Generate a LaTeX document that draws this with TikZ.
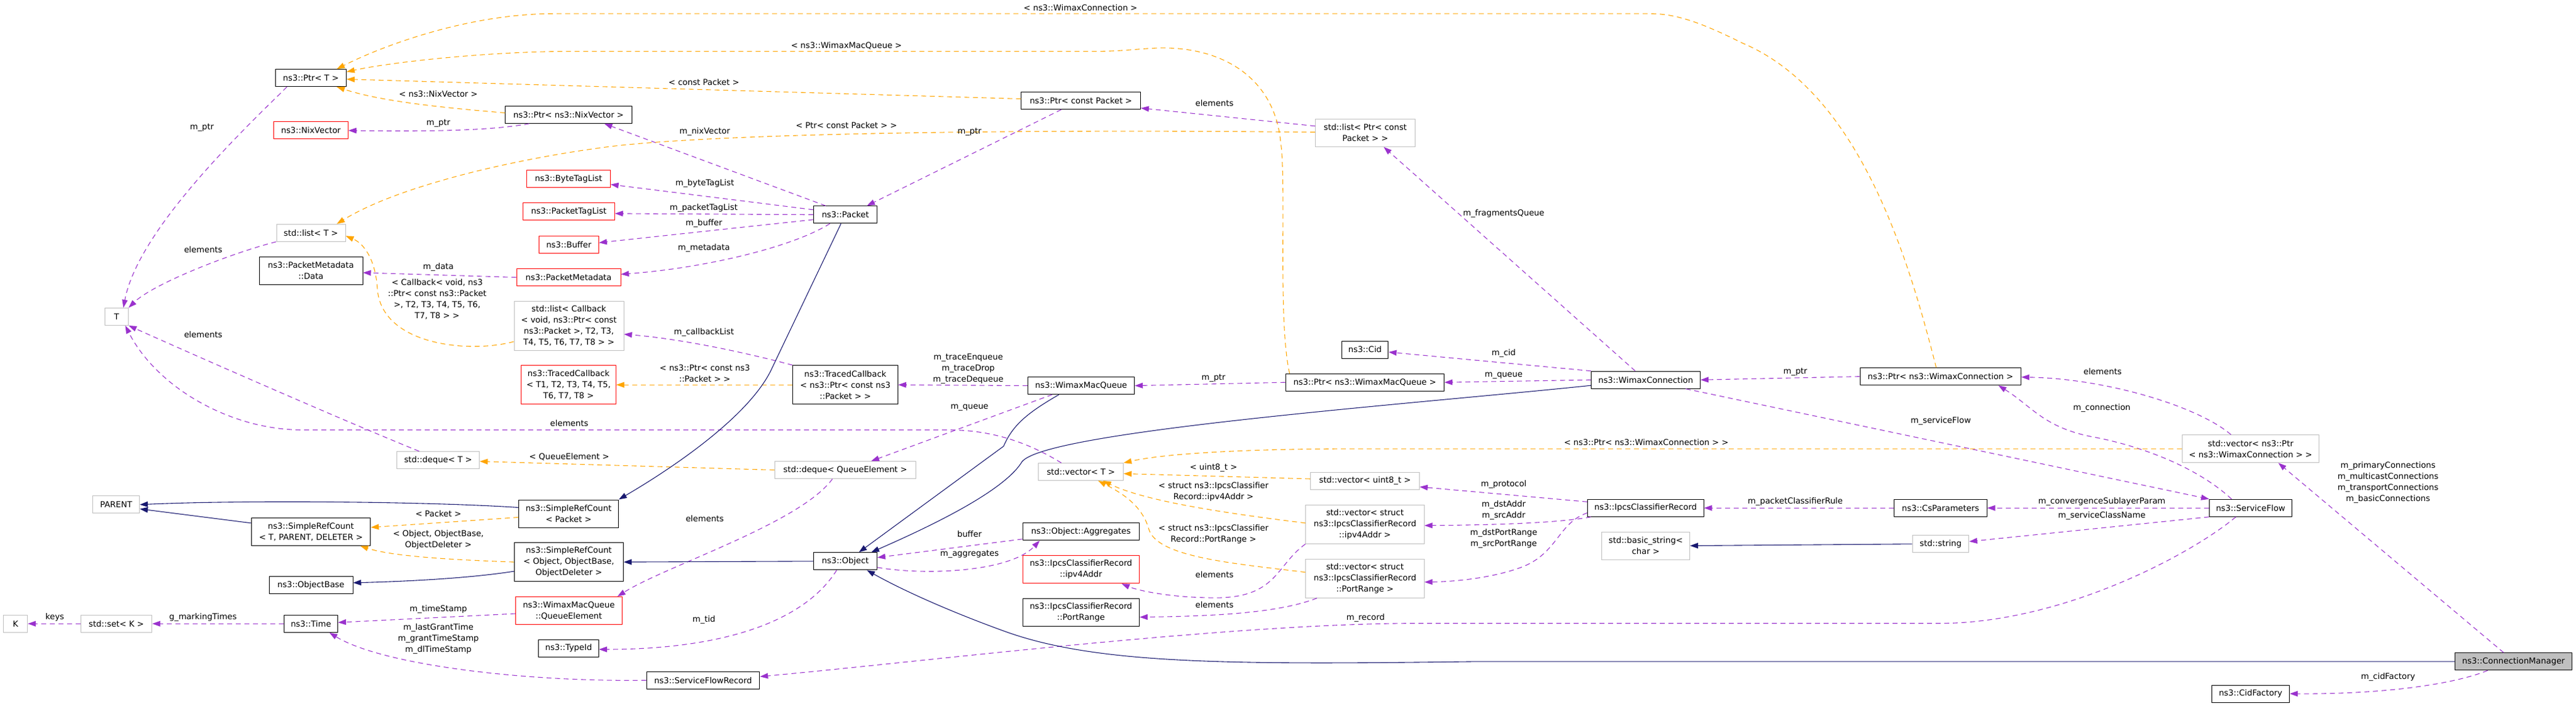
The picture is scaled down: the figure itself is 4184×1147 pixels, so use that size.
\documentclass[tikz,border=0pt]{standalone}
\usepackage{fontspec}
\setmainfont{DejaVu Sans}
\usetikzlibrary{arrows.meta}
\definecolor{usecol}{HTML}{9A32CD}
\definecolor{tmplcol}{HTML}{FFA500}
\definecolor{inhcol}{HTML}{191970}
\definecolor{extcol}{HTML}{BFBFBF}
\definecolor{trunccol}{HTML}{FF0000}
\newcommand{\dgfont}{\fontsize{13.33}{18}\selectfont}
\tikzset{
  dgbox/.style={rectangle, line width=1pt, font=\dgfont, align=center,
    minimum height=28, inner xsep=6, inner ysep=4, minimum width=#1},
  cls/.style={dgbox=#1, draw=black},
  ext/.style={dgbox=#1, draw=extcol},
  trunc/.style={dgbox=#1, draw=trunccol},
  focuscls/.style={dgbox=#1, draw=black, fill=extcol},
  h2/.style={minimum height=45},
  h3/.style={minimum height=63},
  h4/.style={minimum height=80},
  lbl/.style={font=\dgfont, align=center, inner sep=0},
  link/.style={line width=1.1pt, -{Triangle[length=13pt,width=9pt]}},
  member/.style={link, draw=usecol, dash pattern=on 8pt off 6pt},
  tmplarg/.style={link, draw=tmplcol, dash pattern=on 8pt off 6pt},
  derive/.style={link, draw=inhcol}
}
\begin{document}
\begin{tikzpicture}[x=1pt, y=-1pt]
\useasboundingbox (0,0) rectangle (4184,1147);

\node[cls=115] (ptrT) at (505,126.7) {ns3::Ptr< T >};
\node[cls=205.5] (ptrNix) at (923.5,186.4) {ns3::Ptr< ns3::NixVector >};
\node[trunc=120.6] (nixvec) at (505,212) {ns3::NixVector};
\node[trunc=135.4] (bytetag) at (923.5,290.7) {ns3::ByteTagList};
\node[trunc=148.7] (pkttag) at (923.9,343.9) {ns3::PacketTagList};
\node[trunc=96.8] (buffer) at (923.9,397.3) {ns3::Buffer};
\node[trunc=169] (pktmeta) at (923.5,450.6) {ns3::PacketMetadata};
\node[ext=112] (listT) at (505,378.3) {std::list< T >};
\node[cls=168, h2] (metadata) at (505,440) {ns3::PacketMetadata\\::Data};
\node[ext=178, h4] (listCb) at (924,529) {std::list< Callback\\< void, ns3::Ptr< const\\ns3::Packet >, T2, T3,\\T4, T5, T6, T7, T8 > >};
\node[ext=38] (T) at (189.4,514.4) {T};
\node[trunc=153.7, h3] (tcT) at (923.5,625.2) {ns3::TracedCallback\\< T1, T2, T3, T4, T5,\\T6, T7, T8 >};
\node[ext=134] (dequeT) at (711.7,747.6) {std::deque< T >};
\node[ext=75.8] (parent) at (188.7,819.8) {PARENT};
\node[cls=162, h2] (srcPkt) at (923.5,834.5) {ns3::SimpleRefCount\\< Packet >};
\node[cls=193.6, h2] (srcT) at (505,863.8) {ns3::SimpleRefCount\\< T, PARENT, DELETER >};
\node[cls=177, h3] (srcObj) at (923.9,913.1) {ns3::SimpleRefCount\\< Object, ObjectBase,\\ObjectDeleter >};
\node[cls=136] (objbase) at (505,950.8) {ns3::ObjectBase};
\node[trunc=172.6, h2] (qelem) at (923.9,992) {ns3::WimaxMacQueue\\::QueueElement};
\node[ext=39] (K) at (25.2,1013.3) {K};
\node[ext=115.7] (setK) at (189,1013.3) {std::set< K >};
\node[cls=87] (time) at (505,1013.3) {ns3::Time};
\node[cls=97.5] (typeid) at (923.5,1053) {ns3::TypeId};
\node[cls=103] (packet) at (1373,348.8) {ns3::Packet};
\node[cls=193.6] (ptrPkt) at (1755.7,163.6) {ns3::Ptr< const Packet >};
\node[ext=162, h2] (listPkt) at (2217.5,215.8) {std::list< Ptr< const\\Packet > >};
\node[cls=170.5, h3] (tcPkt) at (1373,625.2) {ns3::TracedCallback\\< ns3::Ptr< const ns3\\::Packet > >};
\node[cls=173.3] (wmq) at (1756,626.6) {ns3::WimaxMacQueue};
\node[cls=257.5] (ptrWmq) at (2216.8,621.2) {ns3::Ptr< ns3::WimaxMacQueue >};
\node[ext=229.4] (dequeQ) at (1373,763.6) {std::deque< QueueElement >};
\node[ext=137.5] (vecT) at (1755.7,766.5) {std::vector< T >};
\node[cls=103] (object) at (1373,911.8) {ns3::Object};
\node[cls=189.4] (aggr) at (1755.7,863.8) {ns3::Object::Aggregates};
\node[trunc=189.4, h2] (ipv4) at (1755.7,925.3) {ns3::IpcsClassifierRecord\\::ipv4Addr};
\node[cls=189.4, h2] (prange) at (1755.7,994.6) {ns3::IpcsClassifierRecord\\::PortRange};
\node[cls=183.8] (sfrec) at (1142,1105.2) {ns3::ServiceFlowRecord};
\node[cls=75.7] (cid) at (2217,568) {ns3::Cid};
\node[cls=176.8] (wconn) at (2673,617.2) {ns3::WimaxConnection};
\node[cls=261.5] (ptrWc) at (3151.8,611.7) {ns3::Ptr< ns3::WimaxConnection >};
\node[ext=176.7] (vecU8) at (2217,781) {std::vector< uint8\_t >};
\node[ext=192.3, h3] (vecIpv4) at (2217,851.8) {std::vector< struct\\ns3::IpcsClassifierRecord\\::ipv4Addr >};
\node[ext=192.3, h3] (vecPr) at (2217,939.7) {std::vector< struct\\ns3::IpcsClassifierRecord\\::PortRange >};
\node[cls=188.7] (icr) at (2672.8,825.3) {ns3::IpcsClassifierRecord};
\node[ext=143, h2] (bstr) at (2673,886.6) {std::basic\_string<\\char >};
\node[cls=150.7] (csp) at (3151.8,825.3) {ns3::CsParameters};
\node[ext=91.8] (str) at (3152,883.8) {std::string};
\node[ext=222.2, h2] (vecWc) at (3655.5,729.1) {std::vector< ns3::Ptr\\< ns3::WimaxConnection > >};
\node[cls=133.9] (sflow) at (3655.5,825.3) {ns3::ServiceFlow};
\node[focuscls=190] (cm) at (4082.5,1074.8) {ns3::ConnectionManager};
\node[cls=126] (cidf) at (3655.5,1127) {ns3::CidFactory};

\draw[member] ([xshift=-39]ptrT.south) .. controls (406,201) and (225,370) .. ([xshift=11]T.north);
\draw[member] (listT.south west) .. controls (380,410) and (250,460) .. (T.north east);
\draw[member] ([xshift=-31]dequeT.north) .. controls (550,680) and (300,570) .. (T.south east);
\draw[member] ([xshift=-32]vecT.north) .. controls (1680,725) and (1620,698.5) .. (1541,698.5) -- (491,698.5) .. controls (375,698.5) and (255,630) .. ([xshift=14]T.south);
\draw[member] ([xshift=-64]ptrNix.south) .. controls (800,212) and (700,214) .. (nixvec.east);
\draw[member] ([xshift=-32]packet.north) -- ([xshift=58]ptrNix.south);
\draw[member] ([yshift=8]packet.west) -- ([yshift=-9]bytetag.east);
\draw[member] (packet.west) -- ([yshift=-3]pkttag.east);
\draw[member] ([yshift=-8]packet.west) -- ([yshift=3]buffer.east);
\draw[member] ([xshift=-25]packet.south) .. controls (1290,400) and (1150,435) .. ([yshift=5]pktmeta.east);
\draw[member] (pktmeta.west) -- ([yshift=-3]metadata.east);
\draw[member] (tcPkt.north west) .. controls (1200,570) and (1100,550) .. ([yshift=-14]listCb.east);
\draw[member] (wmq.west) -- (tcPkt.east);
\draw[member] ([xshift=-47]wmq.south) -- ([xshift=42]dequeQ.north);
\draw[member] ([xshift=-21]dequeQ.south) .. controls (1300,850) and (1080,920) .. ([xshift=79]qelem.north);
\draw[member] ([yshift=-5]qelem.west) -- ([yshift=2]time.east);
\draw[member] (setK.west) -- (K.east);
\draw[member] (time.west) -- (setK.east);
\draw[member] (sfrec.west) .. controls (850,1108) and (620,1080) .. ([xshift=30]time.south);
\draw[member] ([xshift=-14]object.south) .. controls (1300,1020) and (1150,1055) .. ([yshift=-2]typeid.east);
\draw[member] ([yshift=-10]object.east) .. controls (1500,935) and (1640,930) .. ([xshift=-67]aggr.south);
\draw[member] ([yshift=-12]aggr.west) -- ([yshift=6]object.east);
\draw[member] ([xshift=-32]ptrPkt.south) -- ([xshift=35]packet.north);
\draw[member] ([yshift=11]listPkt.west) -- ([yshift=-12]ptrPkt.east);
\draw[member] (ptrWmq.west) -- (wmq.east);
\draw[member] (wconn.west) -- (ptrWmq.east);
\draw[member] (wconn.north west) -- ([yshift=-4]cid.east);
\draw[member] ([xshift=-17]wconn.north) -- ([xshift=30]listPkt.south);
\draw[member] (ptrWc.west) -- (wconn.east);
\draw[member] ([xshift=65]wconn.south) -- (sflow.north west);
\draw[member] ([xshift=-31]sflow.north) .. controls (3570,760) and (3480,725) .. (3400,710) .. controls (3320,695) and (3300,660) .. ([xshift=94]ptrWc.south);
\draw[member] ([xshift=-32]vecWc.north) .. controls (3570,660) and (3420,615) .. ([yshift=-1]ptrWc.east);
\draw[member] ([xshift=-16]cm.north) -- ([xshift=45]vecWc.south);
\draw[member] ([xshift=-42]cm.south) .. controls (3990,1110) and (3880,1128) .. (cidf.east);
\draw[member] (sflow.west) -- (csp.east);
\draw[member] (sflow.south west) -- ([yshift=4]str.east);
\draw[member] ([xshift=-24]sflow.south) .. controls (3560,900) and (3350,1012.7) .. (3150,1012.7) -- (2300,1012.7) .. controls (2000,1012.7) and (1500,1075) .. ([yshift=6]sfrec.east);
\draw[member] (csp.west) -- (icr.east);
\draw[member] ([yshift=10]icr.west) -- ([yshift=-10]vecU8.east);
\draw[member] ([xshift=6]icr.south west) .. controls (2530,850) and (2420,853) .. ([yshift=-2]vecIpv4.east);
\draw[member] ([yshift=-8]icr.west) .. controls (2530,850) and (2530,900) .. (2470,922) .. controls (2420,940) and (2360,945) .. ([yshift=-6]vecPr.east);
\draw[member] (vecIpv4.south west) .. controls (2070,920) and (2075,975) .. (1962,971) .. controls (1900,970) and (1850,960) .. ([xshift=66]ipv4.south);
\draw[member] ([xshift=-78]vecPr.south) .. controls (2080,995) and (1980,1001) .. ([yshift=-8]prange.east);

\draw[tmplarg] ([xshift=-7]ptrWc.north) .. controls (3100,420) and (3020,150) .. (2830,70) .. controls (2760,35) and (2720,22.2) .. (2680,22.2) -- (900,22.2) .. controls (760,22.2) and (620,75) .. ([xshift=42]ptrT.north);
\draw[tmplarg] ([xshift=7]ptrWmq.north west) .. controls (2075,520) and (2090,300) .. (2080,230) .. controls (2070,130) and (1990,75) .. (1880,78) .. controls (1840,80) and (1820,83.4) .. (1780,83.4) -- (930,83.4) .. controls (800,83.4) and (640,100) .. ([yshift=10]ptrT.east);
\draw[tmplarg] ([yshift=3]ptrPkt.west) -- ([yshift=-2]ptrT.east);
\draw[tmplarg] ([yshift=3]ptrNix.west) .. controls (720,175) and (620,165) .. ([xshift=42]ptrT.south);
\draw[tmplarg] ([yshift=1]listPkt.west) .. controls (1700,210) and (1200,215) .. (1000,237) .. controls (850,255) and (650,300) .. ([xshift=42]listT.north);
\draw[tmplarg] ([yshift=-26]listCb.west) .. controls (760,575) and (620,560) .. (613,470) .. controls (610,420) and (590,395) .. ([yshift=-5]listT.east);
\draw[tmplarg] (tcPkt.west) -- (tcT.east);
\draw[tmplarg] (dequeQ.west) -- ([yshift=-2]dequeT.east);
\draw[tmplarg] ([yshift=-6]srcPkt.west) -- ([yshift=7]srcT.east);
\draw[tmplarg] (srcObj.west) .. controls (750,910) and (640,905) .. ([xshift=80]srcT.south);
\draw[tmplarg] ([yshift=3]vecU8.west) -- ([yshift=-3]vecT.east);
\draw[tmplarg] ([yshift=2]vecIpv4.west) .. controls (2000,835) and (1860,815) .. ([xshift=36]vecT.south);
\draw[tmplarg] ([yshift=10]vecPr.west) .. controls (2000,915) and (1880,905) .. (1866,860) .. controls (1855,820) and (1820,800) .. ([xshift=28]vecT.south);
\draw[tmplarg] (vecWc.west) -- (2200,729.1) .. controls (2050,729.1) and (1900,735) .. (vecT.north east);

\draw[derive] ([yshift=14]srcT.west) -- ([yshift=-7]parent.east);
\draw[derive] ([yshift=10]srcPkt.west) .. controls (700,815) and (400,812) .. (parent.east);
\draw[derive] ([yshift=-15]srcObj.west) .. controls (760,940) and (650,945) .. ([yshift=4]objbase.east);
\draw[derive] ([xshift=-7]packet.south) -- (1253,600) .. controls (1220,670) and (1110,750) .. (srcPkt.north east);
\draw[derive] ([xshift=-36]wmq.south) .. controls (1670,670) and (1645,690) .. (1630,725) -- ([xshift=22]object.north);
\draw[derive] ([yshift=-9]wconn.west) .. controls (2300,656) and (1700,700) .. (1660,750) .. controls (1630,800) and (1500,860) .. ([xshift=42]object.north);
\draw[derive] (object.west) -- (srcObj.east);
\draw[derive] (cm.west) -- (2400,1074.8) .. controls (2000,1080) and (1780,1080) .. (1630,1025) .. controls (1520,985) and (1450,950) .. ([xshift=35]object.south);
\draw[derive] (str.west) -- (bstr.east);

\node[lbl] (lb1) at (328,207) {m\_ptr};
\node[lbl] (lb2) at (330,405.7) {elements};
\node[lbl] (lb3) at (330,543.4) {elements};
\node[lbl] (lb4) at (924.6,687.9) {elements};
\node[lbl] (lb5) at (712,200) {m\_ptr};
\node[lbl] (lb6) at (1144.7,214.3) {m\_nixVector};
\node[lbl] (lb7) at (1144.7,298.5) {m\_byteTagList};
\node[lbl] (lb8) at (1143,338) {m\_packetTagList};
\node[lbl] (lb9) at (1143.3,362.8) {m\_buffer};
\node[lbl] (lb10) at (1143.3,403) {m\_metadata};
\node[lbl] (lb11) at (712,434.4) {m\_data};
\node[lbl] (lb12) at (1143.3,539.6) {m\_callbackList};
\node[lbl] (lb13) at (1572.6,599.5) {m\_traceEnqueue\\m\_traceDrop\\m\_traceDequeue};
\node[lbl] (lb14) at (1574.7,662.3) {m\_queue};
\node[lbl] (lb15) at (1144.7,842.5) {elements};
\node[lbl] (lb16) at (712,989.8) {m\_timeStamp};
\node[lbl] (lb17) at (89,1003) {keys};
\node[lbl] (lb18) at (329.7,1003) {g\_markingTimes};
\node[lbl] (lb19) at (712,1038) {m\_lastGrantTime\\m\_grantTimeStamp\\m\_dlTimeStamp};
\node[lbl] (lb20) at (1143.3,1007) {m\_tid};
\node[lbl] (lb21) at (1574.7,900.3) {m\_aggregates};
\node[lbl] (lb22) at (1574.7,868) {buffer};
\node[lbl] (lb23) at (1574.7,214.3) {m\_ptr};
\node[lbl] (lb24) at (1972.5,167.2) {elements};
\node[lbl] (lb25) at (1971,614.7) {m\_ptr};
\node[lbl] (lb26) at (2442.3,610.2) {m\_queue};
\node[lbl] (lb27) at (2442.3,573.6) {m\_cid};
\node[lbl] (lb28) at (2442.3,347) {m\_fragmentsQueue};
\node[lbl] (lb29) at (2916,604) {m\_ptr};
\node[lbl] (lb30) at (3152.3,684) {m\_serviceFlow};
\node[lbl] (lb31) at (3413.8,663) {m\_connection};
\node[lbl] (lb32) at (3415,604) {elements};
\node[lbl] (lb33) at (3878.7,784) {m\_primaryConnections\\m\_multicastConnections\\m\_transportConnections\\m\_basicConnections};
\node[lbl] (lb34) at (3878.7,1100.3) {m\_cidFactory};
\node[lbl] (lb35) at (3413.8,815.4) {m\_convergenceSublayerParam};
\node[lbl] (lb36) at (3413.8,838.3) {m\_serviceClassName};
\node[lbl] (lb37) at (2217.9,1004) {m\_record};
\node[lbl] (lb38) at (2916,814.7) {m\_packetClassifierRule};
\node[lbl] (lb39) at (2442.3,787.2) {m\_protocol};
\node[lbl] (lb40) at (2442.3,829) {m\_dstAddr\\m\_srcAddr};
\node[lbl] (lb41) at (2442.3,875.4) {m\_dstPortRange\\m\_srcPortRange};
\node[lbl] (lb42) at (1972.5,933.9) {elements};
\node[lbl] (lb43) at (1972.5,982.2) {elements};
\node[lbl] (lt1) at (1755,12.2) {< ns3::WimaxConnection >};
\node[lbl] (lt2) at (1374.8,73.9) {< ns3::WimaxMacQueue >};
\node[lbl] (lt3) at (1143.3,134) {< const Packet >};
\node[lbl] (lt4) at (712,152.3) {< ns3::NixVector >};
\node[lbl] (lt5) at (1374.8,204) {< Ptr< const Packet > >};
\node[lbl] (lt6) at (710,486) {< Callback< void, ns3\\::Ptr< const ns3::Packet\\>, T2, T3, T4, T5, T6,\\T7, T8 > >};
\node[lbl] (lt7) at (1144.7,607) {< ns3::Ptr< const ns3\\::Packet > >};
\node[lbl] (lt8) at (924.6,742.3) {< QueueElement >};
\node[lbl] (lt9) at (712,834.8) {< Packet >};
\node[lbl] (lt10) at (712,877) {< Object, ObjectBase,\\ObjectDeleter >};
\node[lbl] (lt11) at (1971,760.2) {< uint8\_t >};
\node[lbl] (lt12) at (1971,798.5) {< struct ns3::IpcsClassifier\\Record::ipv4Addr >};
\node[lbl] (lt13) at (1971,867.8) {< struct ns3::IpcsClassifier\\Record::PortRange >};
\node[lbl] (lt14) at (2673.8,719) {< ns3::Ptr< ns3::WimaxConnection > >};
\end{tikzpicture}
\end{document}
